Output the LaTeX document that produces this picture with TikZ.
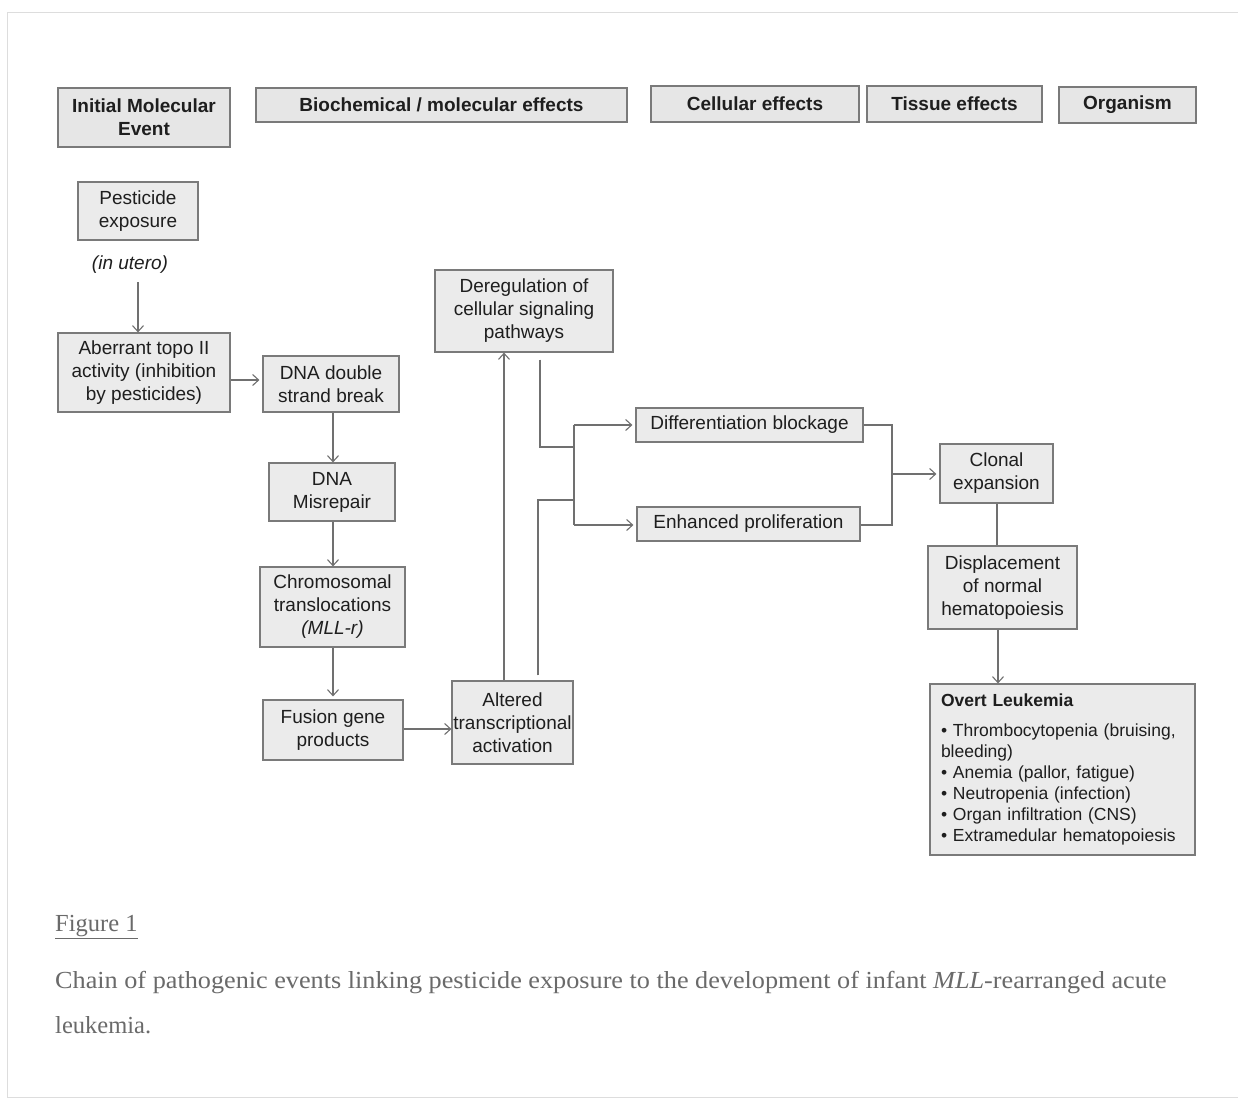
\documentclass[tikz,border=0pt]{standalone}
\usepackage{fontspec}
\setmainfont{Liberation Sans}
\newfontfamily\capfont{Liberation Serif}
\usetikzlibrary{arrows.meta,calc}
\definecolor{boxfill}{HTML}{EBEBEB}
\definecolor{hdrfill}{HTML}{E6E6E6}
\definecolor{boxline}{HTML}{7A7A7A}
\definecolor{txt}{HTML}{1E1E1E}
\definecolor{arrline}{HTML}{707070}
\definecolor{captxt}{HTML}{6A6A6A}
\definecolor{framec}{HTML}{DDDDDD}
\begin{document}
\begin{tikzpicture}[x=1pt,y=-1pt,
  box/.style={draw=boxline, fill=boxfill, text=txt, align=center, inner sep=0pt,
    font=\fontsize{19}{23}\selectfont, line width=1.2pt},
  hdr/.style={box, fill=hdrfill, font=\fontsize{19}{23}\selectfont\bfseries},
  conn/.style={draw=arrline, line width=1.1pt},
  arr/.style={conn, -{Straight Barb[length=6pt,width=11pt]}},
  captext/.style={anchor=west, inner sep=0pt, text=captxt, font=\capfont\fontsize{24.5}{28}\selectfont},
]
\useasboundingbox (0,0) rectangle (1238,1100);
\fill[white] (0,0) rectangle (1238,1100);
% faint frame
\draw[framec, line width=1pt] (1238,12) -- (7,12) -- (7,1097) -- (1238,1097);

% headers
\node[hdr, minimum width=172, minimum height=59] (h1) at (144,117.5) {Initial Molecular\\Event};
\node[hdr, minimum width=371, minimum height=34] (h2) at (441.5,105) {Biochemical / molecular effects};
\node[hdr, minimum width=208, minimum height=36] (h3) at (755,104) {Cellular effects};
\node[hdr, minimum width=175, minimum height=36] (h4) at (954.5,104) {Tissue effects};
\node[hdr, minimum width=137, minimum height=36] (h5) at (1127.5,105) {Organism};

% nodes
\node[box, minimum width=120, minimum height=58] (pest) at (138,211) {Pesticide\\exposure};
\node[text=txt, inner sep=0pt, font=\fontsize{19}{23}\selectfont\itshape] (utero) at (130,265) {(in utero)};
\node[box, minimum width=172, minimum height=79] (topo) at (144,372.5) {Aberrant topo II\\activity (inhibition\\by pesticides)};
\node[box, minimum width=136, minimum height=56] (dsb) at (331,384) {DNA double\\strand break};
\node[box, minimum width=126, minimum height=58] (mis) at (332,492) {DNA\\Misrepair};
\node[box, minimum width=145, minimum height=80] (chrom) at (332.5,607) {Chromosomal\\translocations\\\textit{(MLL-r)}};
\node[box, minimum width=140, minimum height=60] (fusion) at (333,730) {Fusion gene\\products};
\node[box, minimum width=121, minimum height=83] (alt) at (512.5,722.5) {Altered\\transcriptional\\activation};
\node[box, minimum width=178, minimum height=82] (dereg) at (524,311) {Deregulation of\\cellular signaling\\pathways};
\node[box, minimum width=227, minimum height=34] (diff) at (749.5,425) {Differentiation blockage};
\node[box, minimum width=223, minimum height=34] (enh) at (748.5,524) {Enhanced proliferation};
\node[box, minimum width=113, minimum height=59] (clonal) at (996.5,473.5) {Clonal\\expansion};
\node[box, minimum width=149, minimum height=83] (disp) at (1002.5,587.5) {Displacement\\of normal\\hematopoiesis};
\node[box, minimum width=265, minimum height=171, align=left, text width=243,
      font=\fontsize{17.5}{21}\selectfont] (overt) at (1062.5,769.5)
  {\textbf{Overt Leukemia}\\[9pt]
   • Thrombocytopenia (bruising,\\
   bleeding)\\
   • Anemia (pallor, fatigue)\\
   • Neutropenia (infection)\\
   • Organ infiltration (CNS)\\
   • Extramedular hematopoiesis};

% helper coordinates
\coordinate (a1) at (138,282);
\coordinate (jL) at (540,447);
\coordinate (jA) at (538,500);
\coordinate (jV1) at (574,425);
\coordinate (jV2) at (574,525);
\coordinate (jR1) at (892,425);
\coordinate (jR2) at (892,525);
\coordinate (jRm) at (892,474);

% connectors
\draw[arr] (a1) -- (topo.north -| a1);
\draw[arr] (topo.east |- 0,380) -- ([xshift=-3pt]dsb.west |- 0,380);
\draw[arr] (dsb.south -| 333,0) -- (mis.north -| 333,0);
\draw[arr] (mis.south -| 333,0) -- (chrom.north -| 333,0);
\draw[arr] (chrom.south -| 333,0) -- ([yshift=3pt]fusion.north -| 333,0);
\draw[arr] (fusion.east |- 0,729) -- (alt.west |- 0,729);
\draw[arr] (alt.north -| 504,0) -- (dereg.south -| 504,0);
\draw[conn] ([yshift=-7pt]dereg.south -| jL) -- (jL) -- (jL -| jV1);
\draw[conn] ([yshift=5pt]alt.north -| jA) -- (jA) -- (jA -| jV1);
\draw[conn] (jV1) -- (jV2);
\draw[arr] (jV1) -- ([xshift=-3pt]diff.west |- jV1);
\draw[arr] (jV2) -- ([xshift=-3pt]enh.west |- jV2);
\draw[conn] (diff.east |- jR1) -- (jR1) -- (jR2) -- (enh.east |- jR2);
\draw[arr] (jRm) -- ([xshift=-3pt]clonal.west |- jRm);
\draw[conn] (clonal.south -| 997,0) -- (disp.north -| 997,0);
\draw[arr] (disp.south -| 998,0) -- (overt.north -| 998,0);

% caption
\node[captext] (fig) at (55,927) {\underline{Figure 1}};
\node[captext] (c1) at (55,983) {\scalebox{1.07}[1]{Chain of pathogenic events linking pesticide exposure to the development of infant \textit{MLL}-rearranged acute}};
\node[captext] (c2) at (55,1025) {leukemia.};
\end{tikzpicture}
\end{document}
